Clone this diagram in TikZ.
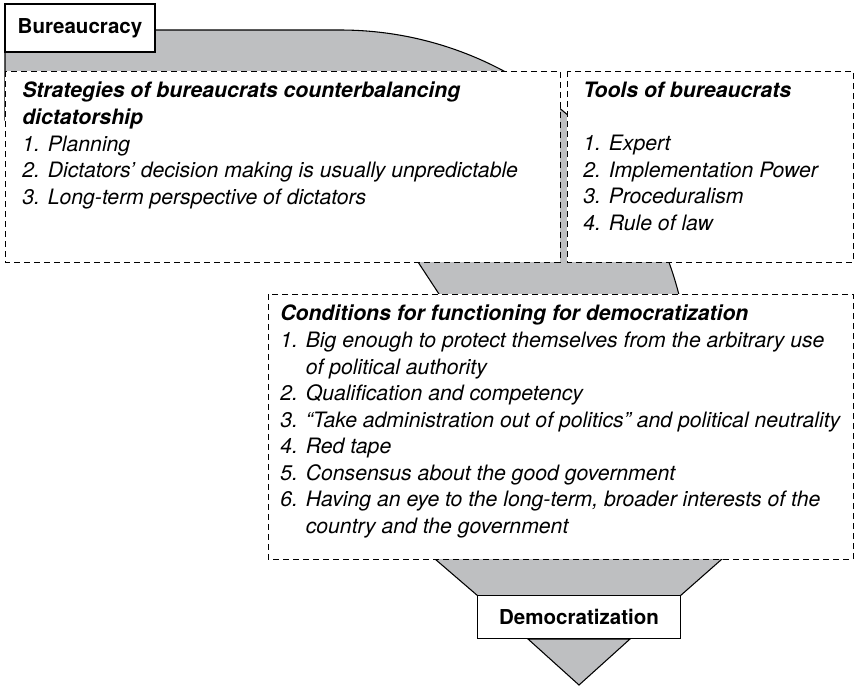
\documentclass[tikz,border=0pt]{standalone}
\usepackage{fontspec}
\setmainfont{TeX Gyre Heros}
\usetikzlibrary{positioning}
\definecolor{bandgray}{RGB}{190,191,193}

\begin{document}
\begin{tikzpicture}[x=0.75pt, y=-0.75pt]
\tikzset{
  band/.style={fill=bandgray, draw=black, line width=0.8pt},
  panel/.style={draw=black, fill=white, dash pattern=on 4.5pt off 3pt, line width=0.6pt},
  paneltext/.style={anchor=north west, align=left, inner sep=0pt, font=\fontsize{15.9}{19.9}\selectfont\itshape},
  stagebox/.style={draw=black, fill=white, line width=1.2pt, inner sep=0pt, font=\fontsize{15.4}{18}\selectfont\bfseries}
}
\useasboundingbox (0,0) rectangle (855,687);

% the broad band from the top label down to the funnel
\filldraw[band] (5,30) -- (340,30) .. controls (533,30) and (690,188) .. (690,383)
  -- (800,480) -- (722,559) -- (680,596) -- (478,596) -- (435,559) -- (355,490)
  -- (460,326) -- (418,262) .. controls (380,190) and (300,120) .. (5,120) -- cycle;
\filldraw[band] (528,639) -- (579,685) -- (630,639) -- cycle;

\draw[panel] (5,71) rectangle (560,262);
\draw[panel] (567,71) rectangle (853,262);
\draw[panel] (268,294) rectangle (853,559);

\node[paneltext] (strat) at (22,82) {{\bfseries Strategies of bureaucrats counterbalancing}\\
  {\bfseries dictatorship}\\
  1. Planning\\
  2. Dictators’ decision making is usually unpredictable\\
  3. Long-term perspective of dictators};

\node[paneltext] (tools) at (583,82) {{\bfseries Tools of bureaucrats}\\[19.9pt]
  1. Expert\\
  2. Implementation Power\\
  3. Proceduralism\\
  4. Rule of law};

\node[paneltext] (cond) at (280,305) {{\bfseries Conditions for functioning for democratization}\\
  1. Big enough to protect themselves from the arbitrary use\\
  \phantom{1. }of political authority\\
  2. Qualification and competency\\
  3. “Take administration out of politics” and political neutrality\\
  4. Red tape\\
  5. Consensus about the good government\\
  6. Having an eye to the long-term, broader interests of the\\
  \phantom{6. }country and the government};

\node[stagebox, minimum width=112.5pt, minimum height=36pt] (bur) at (80,28) {Bureaucracy};
\node[stagebox, minimum width=152pt, minimum height=32pt] (dem) at (579,617) {Democratization};
\end{tikzpicture}
\end{document}
